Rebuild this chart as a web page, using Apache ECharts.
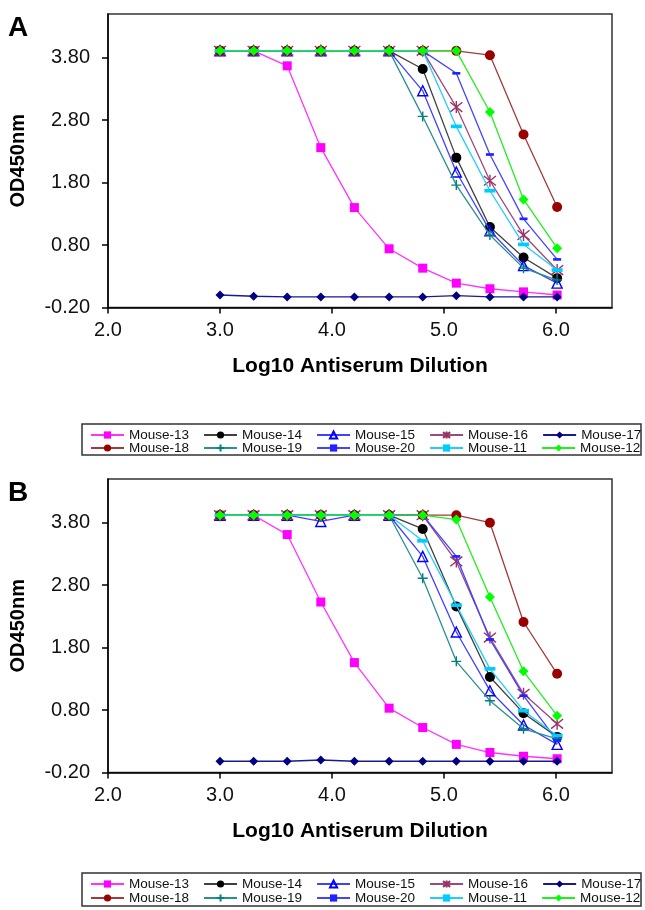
<!DOCTYPE html>
<html><head><meta charset="utf-8">
<script src="https://cdn.jsdelivr.net/npm/echarts@6/dist/echarts.min.js"></script>
<style>html,body{margin:0;padding:0;background:#fff}#c{width:645px;height:910px}</style>
</head><body><div id="c"></div>
<script>
const xVals = [3.00, 3.30, 3.60, 3.90, 4.20, 4.51, 4.81, 5.11, 5.41, 5.71, 6.01];
const xTicks = [2.0, 3.0, 4.0, 5.0, 6.0];
const yTicks = [-0.2, 0.8, 1.8, 2.8, 3.8];
const names = ['Mouse-13','Mouse-14','Mouse-15','Mouse-16','Mouse-17','Mouse-18','Mouse-19','Mouse-20','Mouse-11','Mouse-12'];

// Panel A
const a13 = [3.91,3.91,3.67,2.36,1.40,0.74,0.43,0.19,0.10,0.05,0.00];
const a14 = [3.91,3.91,3.91,3.91,3.91,3.91,3.62,2.20,1.09,0.60,0.27];
const a15 = [3.91,3.91,3.91,3.91,3.91,3.91,3.27,1.97,1.03,0.47,0.19];
const a16 = [3.91,3.91,3.91,3.91,3.91,3.91,3.91,3.01,1.83,0.96,0.40];
const a17 = [0.00,-0.02,-0.03,-0.03,-0.03,-0.03,-0.03,-0.01,-0.03,-0.03,-0.03];
const a18 = [3.91,3.91,3.91,3.91,3.91,3.91,3.91,3.91,3.84,2.57,1.41];
const a19 = [3.91,3.91,3.91,3.91,3.91,3.91,2.86,1.76,0.96,0.43,0.24];
const a20 = [3.91,3.91,3.91,3.91,3.91,3.91,3.91,3.55,2.25,1.22,0.57];
const a11 = [3.91,3.91,3.91,3.91,3.91,3.91,3.91,2.70,1.67,0.81,0.40];
const a12 = [3.91,3.91,3.91,3.91,3.91,3.91,3.91,3.91,2.93,1.53,0.75];

// Panel B
const b13 = [3.92,3.92,3.61,2.53,1.56,0.83,0.52,0.25,0.12,0.06,0.02];
const b14 = [3.92,3.92,3.92,3.92,3.92,3.92,3.70,2.46,1.33,0.75,0.37];
const b15 = [3.92,3.92,3.92,3.82,3.92,3.92,3.26,2.05,1.11,0.56,0.25];
const b16 = [3.92,3.92,3.92,3.92,3.92,3.92,3.92,3.18,1.96,1.06,0.58];
const b17 = [-0.02,-0.02,-0.02,0.00,-0.02,-0.02,-0.02,-0.02,-0.02,-0.02,-0.02];
const b18 = [3.92,3.92,3.92,3.92,3.92,3.92,3.92,3.92,3.80,2.21,1.38];
const b19 = [3.92,3.92,3.92,3.92,3.92,3.92,2.91,1.58,0.95,0.50,0.34];
const b20 = [3.92,3.92,3.92,3.92,3.92,3.92,3.92,3.26,1.93,1.03,0.31];
const b11 = [3.92,3.92,3.92,3.92,3.92,3.92,3.51,2.48,1.46,0.79,0.39];
const b12 = [3.92,3.92,3.92,3.92,3.92,3.92,3.92,3.85,2.61,1.42,0.71];

const panelA = [a13,a14,a15,a16,a17,a18,a19,a20,a11,a12];
const panelB = [b13,b14,b15,b16,b17,b18,b19,b20,b11,b12];

const FONT = "'Liberation Sans', Arial, sans-serif";
const DASH = 'path://M0,0L12,0L12,4L0,4Z';
const styles = [
  {symbol:'rect', size:9, fill:'#FF00FF', line:'#FF33FF'},
  {symbol:'circle', size:10, fill:'#000000', line:'#404040'},
  {symbol:'triangle', size:10, fill:'rgba(0,0,0,0)', border:'#0000FF', line:'#4040FF'},
  {symbol:'path://M1,1L9,9M9,1L1,9M5,0L5,10', size:12, fill:'rgba(0,0,0,0)', border:'#993366', line:'#9B4A80'},
  {symbol:'diamond', size:9, fill:'#000080', line:'#1A1A90'},
  {symbol:'circle', size:10, fill:'#990000', line:'#A33A3A'},
  {symbol:'path://M5,0L5,10M0,5L10,5', size:10, fill:'rgba(0,0,0,0)', border:'#008080', line:'#2A9090'},
  {symbol:DASH, size:8, fill:'#2222FF', line:'#4444FF', keep:true},
  {symbol:DASH, size:11, fill:'#00CCFF', line:'#22CCFF', keep:true},
  {symbol:'diamond', size:10, fill:'#00FF00', line:'#22EE22'}
];

function makeSeries(panel, idx) {
  return panel.map((vals, i) => {
    const s = styles[i];
    const itemStyle = {color: s.fill};
    if (s.border) { itemStyle.borderColor = s.border; itemStyle.borderWidth = 1.4; }
    return {
      type:'line', name: names[i], xAxisIndex: idx, yAxisIndex: idx,
      data: xVals.map((x, j) => [x, vals[j]]),
      symbol: s.symbol, symbolSize: s.size, symbolKeepAspect: !!s.keep,
      showAllSymbol: true,
      itemStyle, lineStyle: {color: s.line, width: 1.3},
      emphasis: {disabled: true}, z: 2 + i
    };
  });
}

function xAxis(idx) {
  return {
    type:'value', gridIndex: idx, min: 2.0, max: 6.5, interval: 1,
    axisLine: {show:true, onZero:false, lineStyle:{color:'#000', width:1.5}},
    axisTick: {show:true, inside:false, length:6, lineStyle:{color:'#000', width:1.5}, customValues: xTicks},
    axisLabel: {fontSize:20, fontFamily:FONT, color:'#111', margin:13, customValues: xTicks,
      formatter: v => Number(v).toFixed(1)},
    splitLine: {show:false},
    name: 'Log10 Antiserum Dilution', nameLocation:'middle', nameGap: 48,
    nameTextStyle: {fontSize:21, fontWeight:'bold', fontFamily:FONT, color:'#000'}
  };
}
function yAxis(idx) {
  return {
    type:'value', gridIndex: idx, min: -0.2, max: 4.5, interval: 1,
    axisLine: {show:true, onZero:false, lineStyle:{color:'#000', width:1.5}},
    axisTick: {show:true, inside:false, length:6, lineStyle:{color:'#000', width:1.5}, customValues: yTicks},
    axisLabel: {fontSize:20, fontFamily:FONT, color:'#111', margin:18, customValues: yTicks,
      formatter: v => Number(v).toFixed(2)},
    splitLine: {show:false},
    name: 'OD450nm', nameLocation:'middle', nameGap: 80, nameRotate: 90,
    nameTextStyle: {fontSize:20, fontWeight:'bold', fontFamily:FONT, color:'#000'}
  };
}

function legendRow(data, top) {
  return {
    data, left: 90, top, width: 555, orient:'horizontal', padding: 0,
    itemWidth: 33, itemHeight: 9, itemGap: 14,
    selectedMode: false,
    textStyle: {fontSize: 13.5, fontFamily: FONT, color:'#111', padding:[0,0,0,0]}
  };
}

const chart = echarts.init(document.getElementById('c'), null, {renderer:'canvas'});
chart.setOption({
  animation: false,
  backgroundColor: '#fff',
  grid: [
    {left:107, top:14, width:505, height:293.5, show:true, borderColor:'#333', borderWidth:1.5},
    {left:107, top:479, width:505, height:293.5, show:true, borderColor:'#333', borderWidth:1.5}
  ],
  xAxis: [xAxis(0), xAxis(1)],
  yAxis: [yAxis(0), yAxis(1)],
  legend: [
    legendRow(names.slice(0,5), 428),
    legendRow(names.slice(5), 441),
    legendRow(names.slice(0,5), 877),
    legendRow(names.slice(5), 891)
  ],
  graphic: [
    {type:'text', left: 8, top: 14, style:{text:'A', font:"bold 28px 'Liberation Sans', Arial, sans-serif", fill:'#000'}},
    {type:'text', left: 8, top: 479, style:{text:'B', font:"bold 28px 'Liberation Sans', Arial, sans-serif", fill:'#000'}},
    {type:'rect', shape:{x:82, y:424, width:559, height:31}, style:{fill:'none', stroke:'#333', lineWidth:1.5}, z:-1},
    {type:'rect', shape:{x:82, y:873, width:559, height:33}, style:{fill:'none', stroke:'#333', lineWidth:1.5}, z:-1}
  ],
  series: [...makeSeries(panelA, 0), ...makeSeries(panelB, 1)]
});
</script>
</body></html>
